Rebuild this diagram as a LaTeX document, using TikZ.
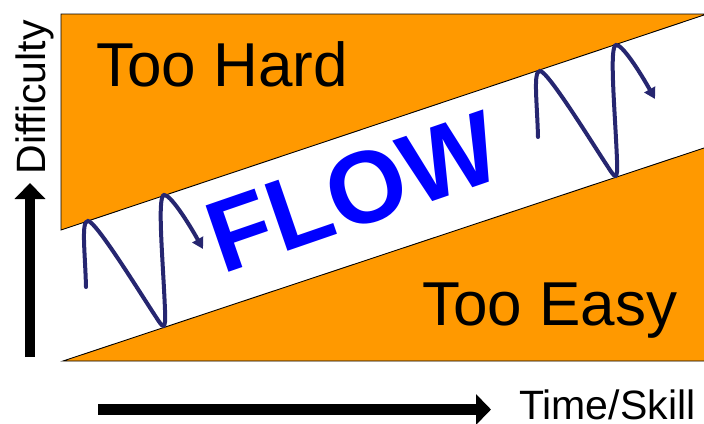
\documentclass[tikz,border=0pt]{standalone}
\usepackage{fontspec}
\setmainfont{Liberation Sans}
\usetikzlibrary{arrows.meta}
\definecolor{floworange}{RGB}{255,153,0}
\definecolor{wignavy}{RGB}{38,38,112}
\definecolor{flowblue}{RGB}{0,0,255}
\begin{document}
\begin{tikzpicture}[x=1pt,y=-1pt,
  zone/.style={fill=floworange},
  edgeline/.style={draw=black,line width=0.9pt},
  biglbl/.style={inner sep=0pt,font=\fontsize{62}{62}\selectfont},
  axlbl/.style={inner sep=0pt,font=\fontsize{41}{41}\selectfont},
  axarrow/.style={draw=black,line cap=butt},
  wiggle/.style={draw=wignavy,line width=4pt,line cap=round,-{Triangle[length=11pt,width=12pt]}}]
\useasboundingbox (0,0) rectangle (704,423);
% zones
\coordinate (tl) at (61,14);
\coordinate (tr) at (704,14);
\coordinate (tre) at (704,15);
\coordinate (ml) at (61,230);
\coordinate (bl) at (63,361);
\coordinate (br) at (704,361);
\coordinate (mr) at (704,148);
\fill[zone] (tl) -- (tr) -- (tre) -- (ml) -- cycle;
\fill[zone] (bl) -- (mr) -- (br) -- cycle;
\draw[edgeline] (tre) -- (ml) -- (tl) -- (tr);
\draw[edgeline] (mr) -- (bl) -- (br);
% labels
\node[biglbl,anchor=base west] (hard) at (96,86) {Too Hard};
\node[biglbl,anchor=base west] (easy) at (422,325) {Too Easy};
\node[axlbl,anchor=base west] (time) at (519,419) {Time/Skill};
\node[axlbl,anchor=base,rotate=90] (diff) at (45,97.5) {Difficulty};
\node[inner sep=0pt,rotate=19,text=flowblue,font=\fontsize{102}{102}\selectfont\bfseries] (flow) at (353,192) {FLOW};
% axis arrows
\coordinate (va) at (30,357);
\coordinate (vb) at (30,183);
\coordinate (ha) at (98,409.5);
\coordinate (hb) at (491,409.5);
\draw[axarrow,line width=10pt,-{Triangle[length=16pt,width=30pt]}] (va) -- (vb);
\draw[axarrow,line width=11pt,-{Triangle[length=15pt,width=30pt]}] (ha) -- (hb);
% wiggles
\foreach \dx/\dy in {0/0,452/-150}{
\begin{scope}[shift={(\dx,\dy)}]
\draw[wiggle] (86,287) .. controls (85,250) and (81,221) .. (88,221)
  .. controls (96,221) and (142,296) .. (156,317)
  .. controls (163,328) and (166,332) .. (165,310)
  .. controls (163,260) and (157,196) .. (164,195)
  .. controls (170,194) and (188,222) .. (203,249);
\end{scope}}
\end{tikzpicture}
\end{document}
